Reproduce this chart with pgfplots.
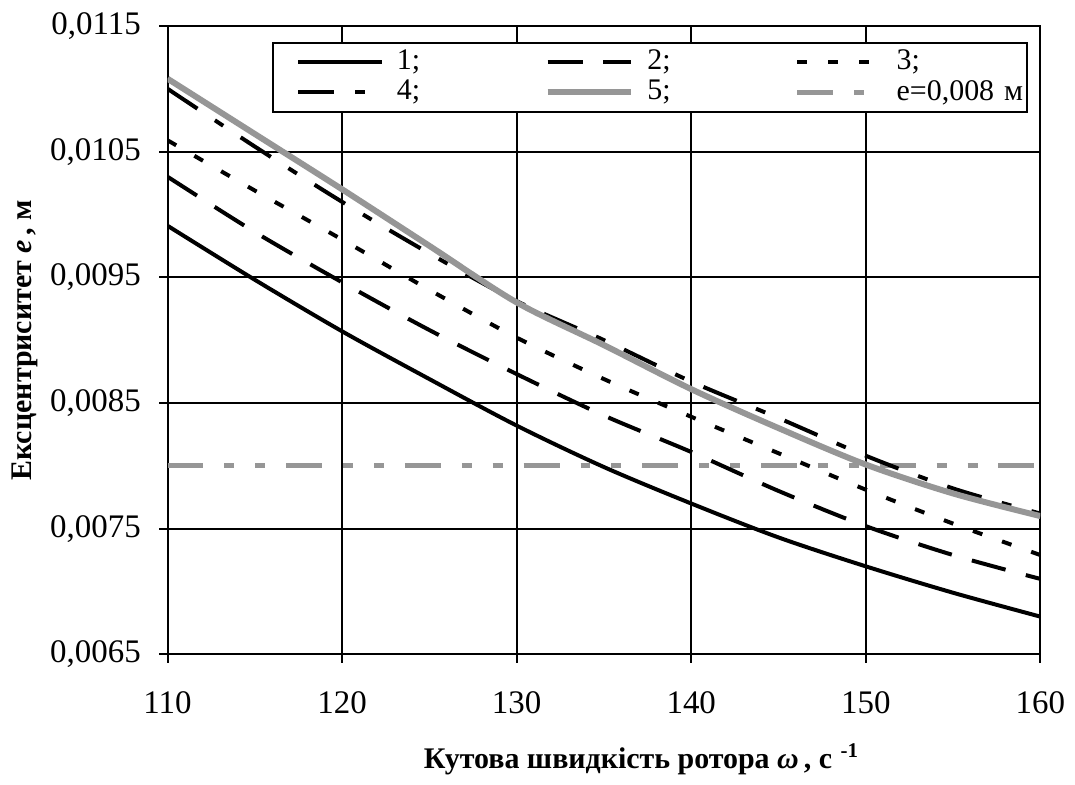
\documentclass[border=0pt]{standalone}
\usepackage{fontspec}
\setmainfont{Liberation Serif}
\usepackage{pgfplots}
\usepackage{pgfplotstable}
\pgfplotsset{compat=1.18}
\definecolor{lgray}{RGB}{150,150,150}
\pgfplotstableread{
x     c1       c2       c3       c4       c5
110   0.00991  0.01030  0.01059  0.01100  0.01108
115   0.00948  0.00986  0.01019  0.01054  0.01064
120   0.00907  0.00946  0.00980  0.01010  0.01020
125   0.00869  0.00908  0.00940  0.00969  0.00975
130   0.00832  0.00873  0.00902  0.00931  0.00930
135   0.00799  0.00840  0.00869  0.00900  0.00896
140   0.00770  0.00811  0.00839  0.00867  0.00861
145   0.00743  0.00780  0.00810  0.00838  0.00830
150   0.00720  0.00752  0.00781  0.00808  0.00801
155   0.00699  0.00729  0.00754  0.00782  0.00778
160   0.00680  0.00710  0.00729  0.00762  0.00760
}\datatable
\begin{document}
\fontsize{15}{18}\selectfont
\begin{tikzpicture}
\begin{axis}[
  at={(0,0)}, anchor=south west,
  scale only axis, width=437.5pt, height=315pt,
  /pgf/number format/assume math mode=true,
  xmin=110, xmax=160, ymin=0.0065, ymax=0.0115,
  xtick={110,120,130,140,150,160},
  ytick={0.0065,0.0075,0.0085,0.0095,0.0105,0.0115},
  scaled y ticks=false,
  yticklabel style={xshift=-4pt, /pgf/number format/.cd, fixed, fixed zerofill, precision=4, use comma},
  xticklabel style={yshift=-9pt},
  tick label style={font=\fontsize{16.5}{19}\selectfont},
  grid=major, major grid style={black, line width=0.9pt},
  axis line style={black, line width=1pt},
  tick style={black, line width=1pt},
  tick pos=left, tick align=center, major tick length=8.5pt,
  xlabel={Кутова швидкість ротора \textit{ω}\,, с\,\textsuperscript{\,-1}},
  ylabel={Ексцентриситет \textit{e}\,, м},
  xlabel style={font=\bfseries\fontsize{15}{18}\selectfont, at={(axis description cs:0.543,-0.181)}, anchor=base},
  ylabel style={font=\bfseries\fontsize{15}{18}\selectfont, at={(axis description cs:-0.1634,0.5)}, anchor=center},
  legend columns=3,
  legend cell align=left,
  legend image code/.code={\draw[#1] (0pt,0pt) -- (42pt,0pt);},
  legend style={at={(rel axis cs:0.12,0.9746)}, anchor=north west, draw=black, line width=1pt,
    inner xsep=11.5pt, inner ysep=2pt,
    font=\fontsize{15}{18}\selectfont,
    nodes={inner xsep=0pt, inner ysep=1.5pt, text width=65pt},
    /tikz/every odd column/.append style={column sep=6.5pt},
    /tikz/every even column/.append style={column sep=9pt},
    /tikz/column 6/.style={nodes={text width=54pt}, column sep=0pt},
  },
]
\addplot[lgray, line width=2.5pt, dash pattern=on 18pt off 10.5pt on 5pt off 10.5pt on 5pt off 10.5pt, forget plot] coordinates {(110,0.008) (160,0.008)};
\addplot[black, line width=2pt, smooth] table[x=x, y=c1] {\datatable};
\addlegendentry{1;}
\addplot[black, line width=2pt, smooth, dash pattern=on 17.5pt off 10.5pt] table[x=x, y=c2] {\datatable};
\addlegendentry{2;}
\addplot[black, line width=2pt, smooth, dash pattern=on 5pt off 10.5pt] table[x=x, y=c3] {\datatable};
\addlegendentry{3;}
\addplot[black, line width=2pt, smooth, dash pattern=on 18pt off 10.5pt on 5pt off 10.5pt] table[x=x, y=c4] {\datatable};
\addlegendentry{4;}
\addplot[lgray, line width=3pt, smooth] table[x=x, y=c5] {\datatable};
\addlegendentry{5;}
\addlegendimage{lgray, line width=2.5pt, dash pattern=on 18pt off 10.5pt on 5pt off 10.5pt on 5pt off 10.5pt}
\addlegendentry{\mbox{e=0,008 м}}
\end{axis}
\path[use as bounding box] (-84pt,-61pt) rectangle (453.5pt,328pt);
\end{tikzpicture}
\end{document}
